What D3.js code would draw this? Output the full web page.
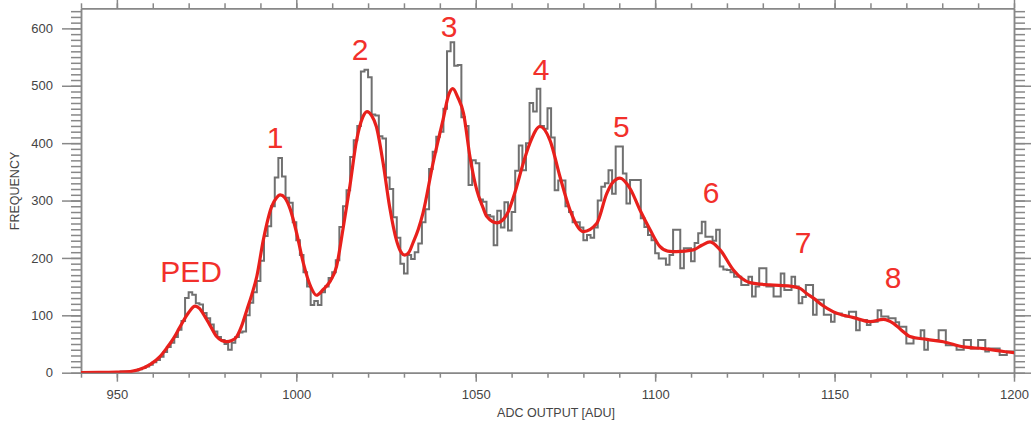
<!DOCTYPE html>
<html>
<head>
<meta charset="utf-8">
<script src="https://cdn.jsdelivr.net/npm/d3@7/dist/d3.min.js"></script>
<style>
  html, body { margin: 0; padding: 0; background: #fff; }
  svg { display: block; }
  .axis text { font-family: "Liberation Sans", Arial, sans-serif; font-size: 13px; fill: #444; }
  .axis path, .axis line { stroke: #888; stroke-width: 1.5px; }
  .title { font-family: "Liberation Sans", Arial, sans-serif; font-size: 12.5px; fill: #444; }
  .peak { font-family: "Liberation Sans", Arial, sans-serif; font-size: 30px; fill: #f2302b; }
</style>
</head>
<body>
<script>
// ADC spectrum: 1-ADU histogram bins starting at binStart, plus multi-peak fit.
const binStart = 940;
const binWidth = 1;
const counts = [
  // 940-959
  0, 0, 0, 0, 0, 1, 1, 1, 1, 1, 1, 2, 2, 2, 3, 4, 6, 8, 11, 14,
  // 960-979
  18, 22, 28, 36, 45, 52, 62, 75, 90, 130, 140, 136, 121, 119, 104, 95, 84, 72, 62, 57,
  // 980-999
  50, 40, 52, 62, 70, 72, 100, 122, 140, 160, 195, 238, 255, 290, 340, 374, 342, 305, 296, 262,
  // 1000-1019
  231, 205, 175, 150, 118, 125, 118, 140, 150, 165, 175, 196, 254, 290, 318, 376, 405, 430, 525, 528,
  // 1020-1039
  515, 450, 448, 412, 408, 340, 320, 271, 235, 190, 173, 205, 198, 210, 225, 262, 285, 355, 385, 411,
  // 1040-1059
  420, 460, 560, 576, 535, 536, 445, 430, 327, 370, 365, 302, 298, 275, 272, 222, 282, 253, 297, 248,
  // 1060-1079
  280, 352, 396, 353, 400, 470, 455, 495, 430, 425, 461, 410, 318, 335, 335, 290, 280, 262, 262, 253,
  // 1080-1099
  231, 240, 235, 253, 300, 324, 330, 353, 312, 394, 394, 347, 295, 336, 336, 336, 269, 254, 240, 231,
  // 1100-1119
  208, 199, 199, 188, 205, 249, 249, 182, 217, 217, 194, 226, 243, 263, 237, 237, 230, 249, 185, 180,
  // 1120-1139
  179, 175, 167, 167, 153, 153, 167, 133, 150, 182, 182, 150, 150, 133, 133, 173, 144, 144, 167, 150,
  // 1140-1159
  121, 132, 153, 153, 101, 127, 127, 101, 101, 89, 103, 103, 100, 98, 106, 106, 74, 92, 92, 83,
  // 1160-1179
  89, 89, 109, 98, 98, 95, 95, 88, 80, 80, 51, 51, 60, 60, 74, 40, 57, 57, 57, 74,
  // 1180-1199
  74, 48, 48, 48, 40, 40, 57, 57, 42, 42, 57, 57, 37, 42, 42, 42, 31, 31, 37, 37
];

// Fitted spectrum (ADC value, frequency)
const fitX = [940, 945, 950, 953.7, 956, 959.2, 962, 963.9, 966, 967.6, 970, 971.8, 973, 974.5, 976, 977.8,
  979.2, 980.6, 982, 983.4, 984.8, 986.2, 987.6, 989, 990.8, 993.1, 994.5, 995.5, 996.8, 998.3, 1000.1,
  1002, 1004, 1005.6, 1007.5, 1009.5, 1011.2, 1013, 1014.9, 1016.8, 1018.5, 1019.7, 1021, 1022.3, 1024.2,
  1026, 1027.9, 1029, 1030.2, 1031.4, 1032.5, 1034, 1035.3, 1038.1, 1040.9, 1042.5, 1043.6, 1045, 1046.6,
  1048.4, 1050.3, 1052, 1053.1, 1055.9, 1058.6, 1061.4, 1063, 1065.1, 1067.9, 1070.7, 1073.5, 1076.3,
  1080, 1083.7, 1086.5, 1088, 1090.2, 1093, 1095.8, 1098.6, 1101.3, 1103.5, 1106, 1110.6, 1113, 1115.3,
  1118.1, 1121.8, 1124, 1126.4, 1132, 1137.6, 1140.4, 1142.2, 1144.1, 1146.5, 1149.7, 1155.3, 1159.9,
  1163.6, 1166.4, 1168.5, 1171, 1175.7, 1180.3, 1185.9, 1191.5, 1197.1, 1200];
const fitY = [0, 0.5, 1, 2, 5, 14, 28, 43, 62, 80, 105, 116, 112, 98, 82, 63,
  56, 54, 56, 63, 82, 109, 136, 168, 231, 289, 305, 310, 305, 285, 243,
  190, 150, 135, 145, 160, 185, 250, 324, 405, 445, 455, 448, 429, 365,
  289, 231, 212, 205, 210, 226, 250, 278, 365, 441, 485, 495, 480, 452,
  376, 318, 288, 272, 261, 275, 324, 360, 400, 429, 405, 341, 283,
  246, 260, 312, 330, 339, 321, 283, 249, 220, 212, 211, 214, 222, 228,
  214, 179, 165, 157, 153, 151, 147, 138, 130, 118, 106, 96, 89,
  93, 86, 75, 63, 58, 54, 45, 42, 37, 35];

// Peak annotations: text, ADC position, frequency of the text baseline
const peakNames = ["PED", "1", "2", "3", "4", "5", "6", "7", "8"];
const peakAdc = [970.7, 994.1, 1017.8, 1042.6, 1068.2, 1090.6, 1115.6, 1141.2, 1166.3];
const peakTextFreq = [158, 391, 545, 585, 510, 411, 296, 208, 148];

// Axis ticks
const xTickValues = [950, 1000, 1050, 1100, 1150, 1200];
const yTickValues = [0, 100, 200, 300, 400, 500, 600];

const W = 1031, H = 428;
const plot = { left: 81, right: 1014, top: 8.3, bottom: 372.7 };

const svg = d3.select("body").append("svg").attr("width", W).attr("height", H);

const x = d3.scaleLinear().domain([940, 1200]).range([plot.left, plot.right]);
const y = d3.scaleLinear().domain([0, 635]).range([plot.bottom, plot.top]);

svg.append("defs").append("clipPath").attr("id", "plot-clip")
  .append("rect")
  .attr("x", plot.left).attr("y", plot.top)
  .attr("width", plot.right - plot.left).attr("height", plot.bottom - plot.top);

// Axes: minor ticks every 10, labelled major ticks
const xMinor = d3.range(940, 1201, 10);
const yMinor = d3.range(0, 631, 10);

function styleAxis(g) { g.attr("class", "axis"); }

svg.append("g").attr("transform", `translate(0,${plot.bottom})`)
  .call(d3.axisBottom(x).tickValues(xMinor).tickSize(5).tickSizeOuter(0).tickFormat(""))
  .call(styleAxis);
svg.append("g").attr("transform", `translate(0,${plot.bottom})`)
  .call(d3.axisBottom(x).tickValues(xTickValues).tickSize(9).tickSizeOuter(0).tickPadding(8).tickFormat(d3.format("d")))
  .call(styleAxis);

svg.append("g").attr("transform", `translate(0,${plot.top})`)
  .call(d3.axisTop(x).tickValues(xMinor).tickSize(5).tickSizeOuter(0).tickFormat(""))
  .call(styleAxis);
svg.append("g").attr("transform", `translate(0,${plot.top})`)
  .call(d3.axisTop(x).tickValues(xTickValues).tickSize(9).tickSizeOuter(0).tickFormat(""))
  .call(styleAxis);

svg.append("g").attr("transform", `translate(${plot.left},0)`)
  .call(d3.axisLeft(y).tickValues(yMinor).tickSize(10).tickSizeOuter(0).tickFormat(""))
  .call(styleAxis);
svg.append("g").attr("transform", `translate(${plot.left},0)`)
  .call(d3.axisLeft(y).tickValues(yTickValues).tickSize(19).tickSizeOuter(0).tickPadding(9).tickFormat(d3.format("d")))
  .call(styleAxis);

svg.append("g").attr("transform", `translate(${plot.right},0)`)
  .call(d3.axisRight(y).tickValues(yMinor).tickSize(11).tickSizeOuter(0).tickFormat(""))
  .call(styleAxis);
svg.append("g").attr("transform", `translate(${plot.right},0)`)
  .call(d3.axisRight(y).tickValues(yTickValues).tickSize(19).tickSizeOuter(0).tickFormat(""))
  .call(styleAxis);

// Axis titles
svg.append("text").attr("class", "title")
  .attr("x", 556).attr("y", 417).attr("text-anchor", "middle")
  .text("ADC OUTPUT [ADU]");
svg.append("text").attr("class", "title")
  .attr("transform", "translate(19,191) rotate(-90)").attr("text-anchor", "middle")
  .text("FREQUENCY");

const plotG = svg.append("g").attr("clip-path", "url(#plot-clip)");

// Histogram as a step outline
const steps = counts.map((c, i) => [binStart + i * binWidth, c]);
steps.push([binStart + counts.length * binWidth, counts[counts.length - 1]]);
plotG.append("path")
  .datum(steps)
  .attr("fill", "none")
  .attr("stroke", "#707070")
  .attr("stroke-width", 2)
  .attr("stroke-linejoin", "miter")
  .attr("d", d3.line().x(d => x(d[0])).y(d => y(d[1])).curve(d3.curveStepAfter));

// Fit curve
const fit = fitX.map((v, i) => [v, fitY[i]]);
plotG.append("path")
  .datum(fit)
  .attr("fill", "none")
  .attr("stroke", "#e8201c")
  .attr("stroke-width", 3.2)
  .attr("stroke-linejoin", "round")
  .attr("stroke-linecap", "round")
  .attr("d", d3.line().x(d => x(d[0])).y(d => y(d[1])).curve(d3.curveMonotoneX));

// Peak labels
svg.append("g").selectAll("text")
  .data(peakNames)
  .join("text")
  .attr("class", "peak")
  .attr("text-anchor", "middle")
  .attr("x", (d, i) => x(peakAdc[i]))
  .attr("y", (d, i) => y(peakTextFreq[i]))
  .text(d => d);
</script>
</body>
</html>
